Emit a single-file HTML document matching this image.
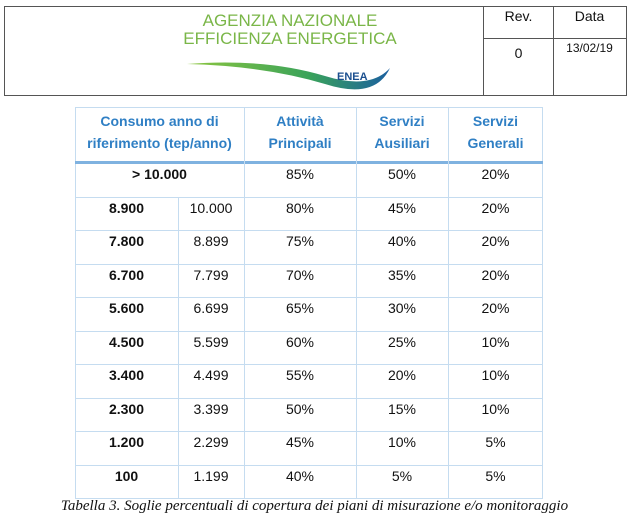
<!DOCTYPE html>
<html><head><meta charset="utf-8"><style>
body{margin:0;width:629px;height:518px;background:#fff;position:relative;font-family:"Liberation Sans",sans-serif;overflow:hidden}
.a{position:absolute}
.c{position:absolute;text-align:center;font-size:14px;color:#111}
.b{font-weight:bold}
.h{color:#2f7fc4;font-weight:bold;font-size:14px;line-height:22px}
</style></head><body>
<div class="a" style="left:4px;top:6px;width:621px;height:88px;border:1.5px solid #555"></div>
<div class="a" style="left:483px;top:6px;width:1px;height:89px;background:#555"></div>
<div class="a" style="left:553px;top:6px;width:1px;height:89px;background:#555"></div>
<div class="a" style="left:483px;top:38px;width:143px;height:1px;background:#555"></div>
<div class="c" style="left:484px;top:8px;width:69px">Rev.</div>
<div class="c" style="left:554px;top:8px;width:71px">Data</div>
<div class="c" style="left:484px;top:45px;width:69px">0</div>
<div class="c" style="left:554px;top:41px;width:71px;font-size:12px">13/02/19</div>
<div class="a" style="left:160px;top:12px;width:260px;text-align:center;color:#7ab648;font-size:17px;line-height:18px;white-space:nowrap">AGENZIA NAZIONALE<br>EFFICIENZA ENERGETICA</div>
<svg class="a" style="left:185px;top:58px" width="215" height="40">
<defs><linearGradient id="g" x1="0" x2="1"><stop offset="0" stop-color="#8cc63f"/><stop offset=".6" stop-color="#3aa35a"/><stop offset="1" stop-color="#1b5fa0"/></linearGradient></defs>
<path d="M2 6 Q80 0 140 18 Q185 32 205 10 Q190 42 140 26 Q80 8 2 6Z" fill="url(#g)"/>
<text x="152" y="22" font-size="11" font-weight="bold" fill="#1b4f8f" font-family="Liberation Sans">ENEA</text>
</svg>
<div class="a" style="left:75px;top:107px;width:468px;height:392px;border:1px solid #c5dcf0;box-sizing:border-box"></div>
<div class="a" style="left:75px;top:161px;width:468px;height:3px;background:#7fb2e0"></div>
<div class="a" style="left:244px;top:107px;width:1px;height:392px;background:#c5dcf0"></div>
<div class="a" style="left:356px;top:107px;width:1px;height:392px;background:#c5dcf0"></div>
<div class="a" style="left:448px;top:107px;width:1px;height:392px;background:#c5dcf0"></div>
<div class="a" style="left:178px;top:197px;width:1px;height:302px;background:#c5dcf0"></div>
<div class="c h" style="left:75px;top:110px;width:169px">Consumo anno di<br>riferimento (tep/anno)</div>
<div class="c h" style="left:244px;top:110px;width:112px">Attività<br>Principali</div>
<div class="c h" style="left:356px;top:110px;width:92px">Servizi<br>Ausiliari</div>
<div class="c h" style="left:448px;top:110px;width:95px">Servizi<br>Generali</div>
<div id="rows"></div>
<script>
var d=[["> 10.000","","85%","50%","20%"],["8.900","10.000","80%","45%","20%"],["7.800","8.899","75%","40%","20%"],["6.700","7.799","70%","35%","20%"],["5.600","6.699","65%","30%","20%"],["4.500","5.599","60%","25%","10%"],["3.400","4.499","55%","20%","10%"],["2.300","3.399","50%","15%","10%"],["1.200","2.299","45%","10%","5%"],["100","1.199","40%","5%","5%"]];
var h="";for(var i=0;i<10;i++){var y=164+i*33.5;
if(i>0)h+='<div class="a" style="left:75px;top:'+(y-1)+'px;width:468px;height:1px;background:#c5dcf0"></div>';
var t=y+2;var r=d[i];
if(i==0)h+='<div class="c b" style="left:75px;top:'+t+'px;width:169px">'+r[0].replace(">","&gt;")+'</div>';
else{h+='<div class="c b" style="left:75px;top:'+t+'px;width:103px">'+r[0]+'</div><div class="c" style="left:178px;top:'+t+'px;width:66px">'+r[1]+'</div>';}
h+='<div class="c" style="left:244px;top:'+t+'px;width:112px">'+r[2]+'</div><div class="c" style="left:356px;top:'+t+'px;width:92px">'+r[3]+'</div><div class="c" style="left:448px;top:'+t+'px;width:95px">'+r[4]+'</div>';}
document.getElementById("rows").innerHTML=h;
</script>
<div class="a" style="left:0;top:498px;width:629px;text-align:center;font-family:'Liberation Serif',serif;font-style:italic;font-size:15px;color:#111">Tabella 3. Soglie percentuali di copertura dei piani di misurazione e/o monitoraggio</div>
</body></html>
